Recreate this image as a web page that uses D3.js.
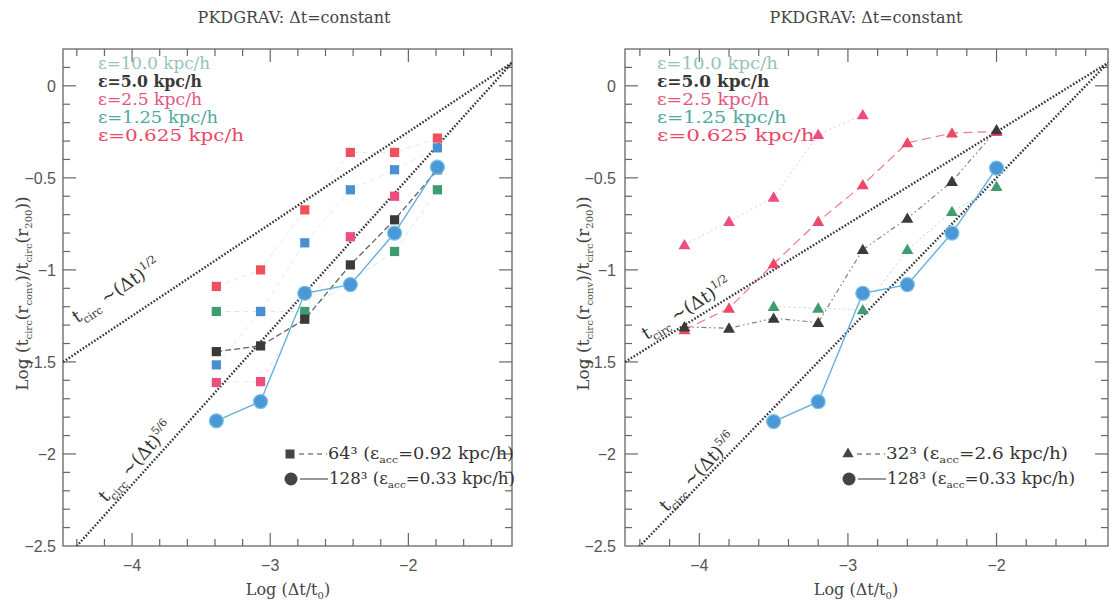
<!DOCTYPE html>
<html><head><meta charset="utf-8">
<script src="https://cdn.jsdelivr.net/npm/d3@7"></script>
<style>body{margin:0;background:#fff;} svg{display:block;}</style>
</head><body><svg id="c" width="1119" height="607"></svg>
<script>
// ---------- data ----------
const xDomain = [-4.5, -1.25];
const yDomain = [-2.5, 0.2];
const xTickLabels = [-4, -3, -2];
const yTickLabels = [0, -0.5, -1, -1.5, -2, -2.5];
const guideAnchor = [-1.25, 0.125];
const guideSlopes = [0.5, 5 / 6];
const guideNames = ["1/2", "5/6"];
const titleText = "PKDGRAV: \u0394t=constant";
const epsLabels = ["\u03b5=10.0 kpc/h", "\u03b5=5.0 kpc/h", "\u03b5=2.5 kpc/h", "\u03b5=1.25 kpc/h", "\u03b5=0.625 kpc/h"];

// left panel: 64^3 squares + 128^3 circles
const leftX = [-3.39, -3.07, -2.75, -2.42, -2.10, -1.79];
const left_eps10 = [-1.226, -1.226, -1.226, null, -0.90, -0.565];
const left_eps5 = [-1.444, -1.413, -1.268, -0.973, -0.728, -0.456];
const left_eps2_5 = [-1.612, -1.607, null, -0.82, -0.60, null];
const left_eps1_25 = [-1.516, -1.226, -0.853, -0.565, -0.456, -0.337];
const left_eps0_625 = [-1.09, -1.00, -0.674, -0.362, -0.362, -0.284];
const left_128 = [-1.82, -1.715, -1.127, -1.08, -0.80, -0.442];

// right panel: 32^3 triangles + 128^3 circles
const rightX = [-4.1, -3.8, -3.5, -3.2, -2.9, -2.6, -2.3, -2.0];
const right_eps10 = [null, null, -1.199, -1.208, -1.217, -0.89, -0.683, -0.547];
const right_eps5 = [-1.31, -1.317, -1.263, -1.286, -0.89, -0.72, -0.52, -0.239];
const right_eps2_5 = [-0.864, -0.737, -0.605, -0.265, -0.158, null, null, null];
const right_eps0_625 = [-1.326, -1.208, -0.967, -0.737, -0.538, -0.31, -0.257, -0.248];
const right128X = [-3.5, -3.2, -2.9, -2.6, -2.3, -2.0];
const right_128 = [-1.824, -1.716, -1.127, -1.08, -0.80, -0.447];

const legendLeft = ["64\u00b3 (\u03b5", "acc", "=0.92 kpc/h)"];
const legendRight = ["32\u00b3 (\u03b5", "acc", "=2.6 kpc/h)"];
const legend128 = ["128\u00b3 (\u03b5", "acc", "=0.33 kpc/h)"];

// ---------- styling ----------
const COL = {
  green: "#3f9c70", black: "#3a3a3a", pink: "#ec4f7e", blue: "#4a90d0",
  red: "#f0505c", circ: "#4a98d6", circLine: "#62b0dc"
};
const epsTextCol = ["#93c4ba", "#383838", "#e4557e", "#4fa8a4", "#ea4668"];
const SERIF = "'DejaVu Serif', 'Liberation Serif', serif";
const SANS = "'Liberation Sans', Arial, sans-serif";
const axisCol = "#666";

const svg = d3.select("#c");
const TOP = 49, BOTTOM = 546;

const panels = [
  { x0: 63, x1: 512, sx: 1, titleX: 294, xlabX: 288, ylabX: 22, ytickX: 56, legX: 98,
    guideText: [{ x: -4.3, off: 24 }, { x: -4.15, off: 7 }] },
  { x0: 625, x1: 1108, sx: 1.08, titleX: 866, xlabX: 856, ylabX: 583, ytickX: 616, legX: 657,
    guideText: [{ x: -4.33, off: 7 }, { x: -4.2, off: 4 }] }
];

panels.forEach((p, pi) => {
  const x = d3.scaleLinear().domain(xDomain).range([p.x0, p.x1]);
  const y = d3.scaleLinear().domain(yDomain).range([BOTTOM, TOP]);
  p.x = x; p.y = y;
  const g = svg.append("g");
  const clipId = "clip" + pi;
  svg.append("clipPath").attr("id", clipId).append("rect")
    .attr("x", p.x0).attr("y", TOP).attr("width", p.x1 - p.x0).attr("height", BOTTOM - TOP);

  // title
  svg.append("text").attr("x", p.titleX).attr("y", 23).attr("text-anchor", "middle")
    .attr("font-family", SERIF).attr("font-size", 16).attr("fill", "#444").text(titleText);

  // frame
  g.append("rect").attr("x", p.x0).attr("y", TOP).attr("width", p.x1 - p.x0).attr("height", BOTTOM - TOP)
    .attr("fill", "none").attr("stroke", axisCol).attr("stroke-width", 1.3);

  // x ticks
  const xMinor = d3.range(-44, -12, 2).map(v => v / 10);
  xMinor.forEach(v => {
    const major = Math.abs(v - Math.round(v)) < 1e-6;
    const len = major ? 13 : 7;
    [[BOTTOM, -1], [TOP, 1]].forEach(([yy, dir]) => {
      g.append("line").attr("x1", x(v)).attr("x2", x(v)).attr("y1", yy).attr("y2", yy + dir * len)
        .attr("stroke", axisCol).attr("stroke-width", 1.2);
    });
  });
  xTickLabels.forEach(v => {
    g.append("text").attr("x", x(v)).attr("y", 571).attr("text-anchor", "middle")
      .attr("font-family", SANS).attr("font-size", 16).attr("fill", "#555").text("\u2212" + Math.abs(v));
  });
  // y ticks
  const yMinor = d3.range(-24, 2, 1).map(v => v / 10);
  yMinor.forEach(v => {
    const major = Math.abs(v * 2 - Math.round(v * 2)) < 1e-6;
    const len = major ? 13 : 7;
    [[p.x0, 1], [p.x1, -1]].forEach(([xx, dir]) => {
      g.append("line").attr("x1", xx).attr("x2", xx + dir * len).attr("y1", y(v)).attr("y2", y(v))
        .attr("stroke", axisCol).attr("stroke-width", 1.2);
    });
  });
  yTickLabels.forEach(v => {
    g.append("text").attr("x", p.ytickX).attr("y", y(v) + 6).attr("text-anchor", "end")
      .attr("font-family", SANS).attr("font-size", 16).attr("fill", "#555")
      .text(v === 0 ? "0" : "\u2212" + Math.abs(v));
  });

  // axis labels
  const xl = svg.append("text").attr("x", p.xlabX).attr("y", 595).attr("text-anchor", "middle")
    .attr("font-family", SERIF).attr("font-size", 16).attr("fill", "#444");
  xl.append("tspan").text("Log (\u0394t/t");
  xl.append("tspan").attr("font-size", 10).attr("dy", 4).text("0");
  xl.append("tspan").attr("dy", -4).text(")");

  const yl = svg.append("text").attr("transform", `translate(${p.ylabX + 6},${(TOP + BOTTOM) / 2 - 4}) rotate(-90)`)
    .attr("text-anchor", "middle").attr("font-family", SERIF).attr("font-size", 17).attr("fill", "#444");
  yl.append("tspan").text("Log (t");
  yl.append("tspan").attr("font-size", 10).attr("dy", 4).text("circ");
  yl.append("tspan").attr("dy", -4).text("(r");
  yl.append("tspan").attr("font-size", 10).attr("dy", 4).text("conv");
  yl.append("tspan").attr("dy", -4).text(")/t");
  yl.append("tspan").attr("font-size", 10).attr("dy", 4).text("circ");
  yl.append("tspan").attr("dy", -4).text("(r");
  yl.append("tspan").attr("font-size", 10).attr("dy", 4).text("200");
  yl.append("tspan").attr("dy", -4).text("))");

  // guide lines
  const gc = svg.append("g").attr("clip-path", `url(#${clipId})`);
  guideSlopes.forEach((s, si) => {
    const xa = xDomain[0], xb = xDomain[1];
    const f = v => guideAnchor[1] + s * (v - guideAnchor[0]);
    gc.append("line").attr("x1", x(xa)).attr("y1", y(f(xa))).attr("x2", x(xb)).attr("y2", y(f(xb)))
      .attr("stroke", "#333").attr("stroke-width", 2.4).attr("stroke-dasharray", "1.6,1.8");
    // annotation
    const gt = p.guideText[si];
    const px = x(gt.x), py = y(f(gt.x));
    const slopePx = (y(f(gt.x + 1)) - py) / (x(gt.x + 1) - px);
    const ang = Math.atan(slopePx) * 180 / Math.PI;
    const t = svg.append("text").attr("transform", `translate(${px},${py}) rotate(${ang}) translate(0,${-gt.off})`)
      .attr("font-family", SERIF).attr("font-size", 18).attr("fill", "#333");
    t.append("tspan").text("t");
    t.append("tspan").attr("font-size", 11).attr("dy", 5).text("circ");
    t.append("tspan").attr("dy", -5).text(" ~(\u0394t)");
    t.append("tspan").attr("font-size", 11).attr("dy", -8).text(guideNames[si]);
  });

  // eps legend
  epsLabels.forEach((lab, i) => {
    svg.append("text").attr("x", p.legX).attr("y", 69 + i * 18)
      .attr("font-family", SERIF).attr("font-size", 17).attr("fill", epsTextCol[i])
      .attr("font-weight", i === 1 ? "bold" : "normal")
      .attr("textLength", [112, 104, 104, 120, 146][i] * p.sx).attr("lengthAdjust", "spacingAndGlyphs")
      .text(lab);
  });
});

// ---------- series drawing ----------
function drawSeries(p, xs, ys, color, lineOpts, marker) {
  const pts = xs.map((v, i) => [v, ys[i]]).filter(d => d[1] !== null);
  if (lineOpts) {
    const line = d3.line().x(d => p.x(d[0])).y(d => p.y(d[1]));
    svg.append("path").attr("d", line(pts)).attr("fill", "none")
      .attr("stroke", lineOpts.color || color).attr("stroke-width", lineOpts.w || 1)
      .attr("stroke-dasharray", lineOpts.dash || null).attr("opacity", lineOpts.op || 1);
  }
  p.markers = p.markers || [];
  p.markers.push({ pts, color, marker });
}
function drawMarkers(p) {
  p.markers.forEach(m => {
    m.pts.forEach(d => {
      const cx = p.x(d[0]), cy = p.y(d[1]);
      if (m.marker === "circle") {
        svg.append("circle").attr("cx", cx).attr("cy", cy).attr("r", 7)
          .attr("fill", m.color).attr("stroke", "#7cc0e8").attr("stroke-width", 1.2);
      } else {
        const type = m.marker === "square" ? d3.symbolSquare : d3.symbolTriangle;
        const size = m.marker === "square" ? 85 : 62;
        svg.append("path").attr("d", d3.symbol().type(type).size(size)())
          .attr("transform", `translate(${cx},${cy + (m.marker === "triangle" ? 1 : 0)})`).attr("fill", m.color);
      }
    });
  });
}

const L = panels[0], R = panels[1];
drawSeries(L, leftX, left_eps10, COL.green, { dash: "5,4", op: 0.2 }, "square");
drawSeries(L, leftX, left_eps2_5, COL.pink, { dash: "5,4", op: 0.18 }, "square");
drawSeries(L, leftX, left_eps1_25, COL.blue, { dash: "5,4", op: 0.18 }, "square");
drawSeries(L, leftX, left_eps0_625, COL.red, { dash: "5,4", op: 0.18 }, "square");
drawSeries(L, leftX, left_eps5, COL.black, { dash: "6,3", w: 1.3, op: 0.8 }, "square");
drawSeries(L, leftX, left_128, COL.circ, { color: COL.circLine, w: 1.4 }, "circle");
drawMarkers(L);

drawSeries(R, rightX, right_eps10, COL.green, { dash: "2,3", op: 0.35 }, "triangle");
drawSeries(R, rightX, right_eps2_5, COL.pink, { dash: "2,3", op: 0.35 }, "triangle");
drawSeries(R, rightX, right_eps0_625, "#ee4868", { dash: "9,5", w: 1.2, op: 0.75 }, "triangle");
drawSeries(R, rightX, right_eps5, COL.black, { dash: "5,3,1.5,3,1.5,3", w: 1.2, op: 0.65 }, "triangle");
drawSeries(R, right128X, right_128, COL.circ, { color: COL.circLine, w: 1.4 }, "circle");
drawMarkers(R);

// ---------- bottom legends ----------
function bottomLegend(symX, rowY, marker, dash, textParts, width) {
  const c = "#444";
  if (marker === "square") {
    svg.append("rect").attr("x", symX - 4.5).attr("y", rowY - 4.5).attr("width", 9).attr("height", 9).attr("fill", c);
  } else if (marker === "triangle") {
    svg.append("path").attr("d", d3.symbol().type(d3.symbolTriangle).size(55)()).attr("transform", `translate(${symX},${rowY})`).attr("fill", c);
  } else {
    svg.append("circle").attr("cx", symX).attr("cy", rowY).attr("r", 6.5).attr("fill", c);
  }
  svg.append("line").attr("x1", symX + 9).attr("x2", symX + 37).attr("y1", rowY).attr("y2", rowY)
    .attr("stroke", c).attr("stroke-width", 1.1).attr("stroke-dasharray", dash);
  const t = svg.append("text").attr("x", symX + 38).attr("y", rowY + 5)
    .attr("font-family", SERIF).attr("font-size", 16).attr("fill", "#333")
    .attr("textLength", width).attr("lengthAdjust", "spacingAndGlyphs");
  t.append("tspan").text(textParts[0]);
  t.append("tspan").attr("font-size", 10).attr("dy", 4).text(textParts[1]);
  t.append("tspan").attr("dy", -4).text(textParts[2]);
}
bottomLegend(290, 454, "square", "5,4", legendLeft, 186);
bottomLegend(291, 479, "circle", null, legend128, 186);
bottomLegend(848, 454, "triangle", "5,4", legendRight, 182);
bottomLegend(849, 479, "circle", null, legend128, 188);
</script></body></html>
